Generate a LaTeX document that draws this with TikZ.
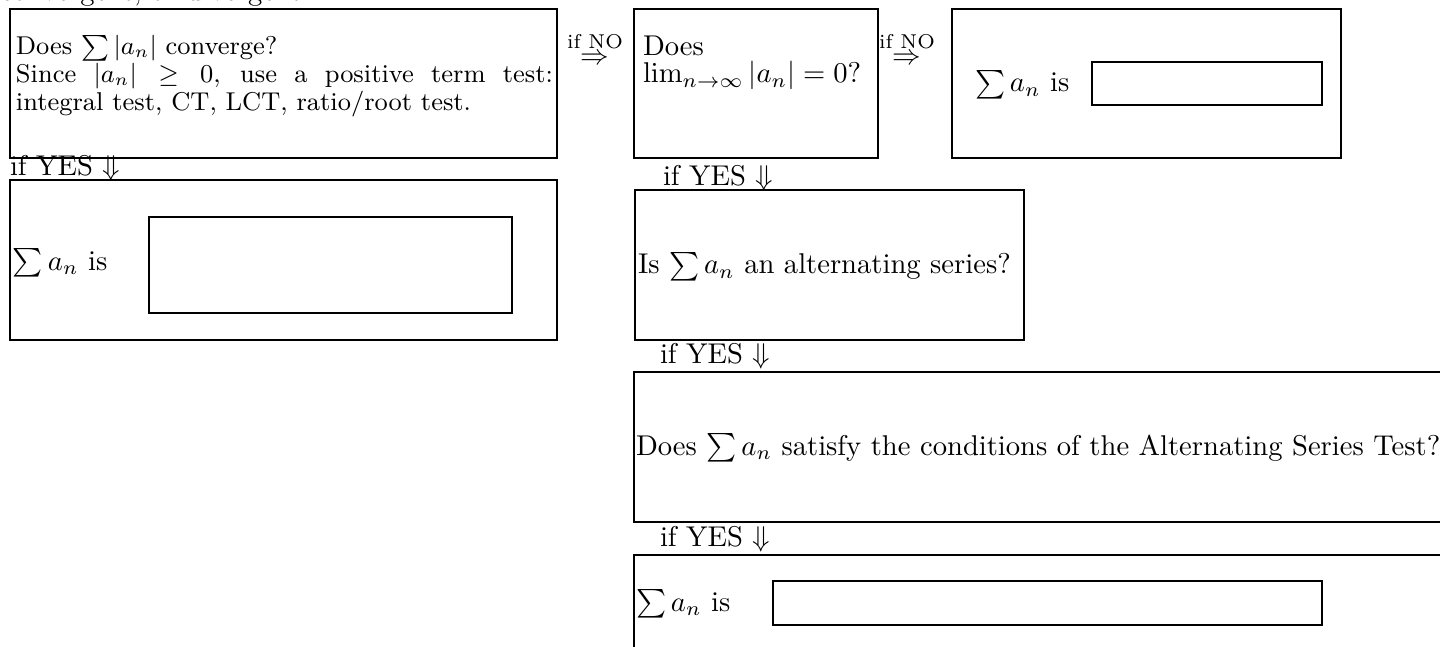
\documentclass[tikz,border=0pt]{standalone}
\usepackage{amsmath,amssymb}
\usetikzlibrary{fit}
\newlength{\upx}
\setlength{\upx}{0.3497pt}
\tikzset{
  box/.style={draw, line width=0.4pt, inner sep=0pt},
  txt/.style={anchor=base west, inner sep=0pt, outer sep=0pt},
  smalltxt/.style={txt, font=\small},
  lbl/.style={anchor=base west, inner sep=0pt, outer sep=0pt},
}
\newcommand{\ifno}{$\stackrel{\text{if NO}}{\Rightarrow}$}
\newcommand{\ifyes}{if YES $\Downarrow$}
\begin{document}
\begin{tikzpicture}[x=\upx, y=-\upx]
\useasboundingbox (0,0) rectangle (1440,647);
% top clipped text
\node[txt] (toptxt) at (0,1) {convergent, or divergent.};
% box 1
\coordinate (b1a) at (10,9); \coordinate (b1b) at (557,158);
\node[box, fit=(b1a)(b1b)] (b1) {};
\node[smalltxt] (b1l1) at (16,55) {Does $\sum|a_n|$ converge?};
\node[smalltxt] (b1l2) at (16,83) {\makebox[537\upx][s]{Since $|a_n|\geq0$, use a positive term test:}};
\node[smalltxt] (b1l3) at (16,111) {integral test, CT, LCT, ratio/root test.};
% if NO 1
\node[anchor=base, inner sep=0pt] (no1) at (595,65) {\ifno};
% box 3
\coordinate (b3a) at (634,9); \coordinate (b3b) at (878,158);
\node[box, fit=(b3a)(b3b)] (b3) {};
\node[txt] (b3l1) at (643,56) {Does};
\node[txt] (b3l2) at (643,83) {$\lim_{n\to\infty}|a_n|=0$?};
% if NO 2
\node[anchor=base, inner sep=0pt] (no2) at (907,65) {\ifno};
% box 4
\coordinate (b4a) at (952,9); \coordinate (b4b) at (1341,158);
\node[box, fit=(b4a)(b4b)] (b4) {};
\node[txt] (b4t) at (975,92) {$\sum a_n$ is};
\coordinate (i4a) at (1092,62); \coordinate (i4b) at (1322,105);
\node[box, fit=(i4a)(i4b)] (i4) {};
% if YES 1
\node[lbl] (yes1) at (10,176) {\ifyes};
% box 2
\coordinate (b2a) at (10,180); \coordinate (b2b) at (557,340);
\node[box, fit=(b2a)(b2b)] (b2) {};
\node[txt] (b2t) at (13,270) {$\sum a_n$ is};
\coordinate (i2a) at (149,217); \coordinate (i2b) at (512,313);
\node[box, fit=(i2a)(i2b)] (i2) {};
% if YES 2
\node[lbl] (yes2) at (663,186) {\ifyes};
% box 5
\coordinate (b5a) at (635,190); \coordinate (b5b) at (1024,340);
\node[box, fit=(b5a)(b5b)] (b5) {};
\node[txt] (b5t) at (638,274) {Is $\sum a_n$ an alternating series?};
% if YES 3
\node[lbl] (yes3) at (660,363) {\ifyes};
% box 6
\coordinate (b6a) at (634,372); \coordinate (b6b) at (1460,522);
\node[box, fit=(b6a)(b6b)] (b6) {};
\node[txt] (b6t) at (636,455) {Does $\sum a_n$ satisfy the conditions of the Alternating Series Test?};
% if YES 4
\node[lbl] (yes4) at (660,546) {\ifyes};
% box 7
\coordinate (b7a) at (634,555); \coordinate (b7b) at (1460,680);
\node[box, fit=(b7a)(b7b)] (b7) {};
\node[txt] (b7t) at (636,611) {$\sum a_n$ is};
\coordinate (i7a) at (773,581); \coordinate (i7b) at (1322,625);
\node[box, fit=(i7a)(i7b)] (i7) {};
\end{tikzpicture}
\end{document}
